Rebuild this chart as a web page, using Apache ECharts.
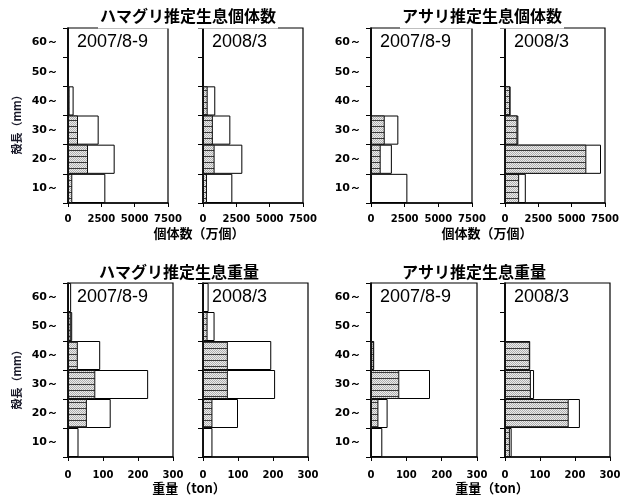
<!DOCTYPE html>
<html>
<head>
<meta charset="utf-8">
<script src="https://cdn.jsdelivr.net/npm/echarts@6/dist/echarts.min.js"></script>
<style>
html,body{margin:0;padding:0;background:#fff;}
#c{width:630px;height:497px;}
</style>
</head>
<body>
<div id="c"></div>
<script>
const sizeClasses = ['10～','20～','30～','40～','50～','60～'];

const hamaNum2007Total = [2800, 3500, 2300, 420, 0, 0];
const hamaNum2007Part  = [320, 1500, 750, 120, 0, 0];
const hamaNum2008Total = [2200, 2950, 2050, 920, 0, 0];
const hamaNum2008Part  = [300, 870, 740, 350, 0, 0];

const asariNum2007Total = [2700, 1550, 2030, 0, 0, 0];
const asariNum2007Part  = [0, 720, 1020, 0, 0, 0];
const asariNum2008Total = [1560, 7200, 1000, 420, 0, 0];
const asariNum2008Part  = [1060, 6100, 930, 380, 0, 0];

const hamaWt2007Total = [30, 122, 229, 92, 12, 9];
const hamaWt2007Part  = [3, 54, 78, 28, 8, 0];
const hamaWt2008Total = [27, 100, 206, 195, 33, 16];
const hamaWt2008Part  = [2, 27, 71, 71, 13, 0];

const asariWt2007Total = [32, 47, 167, 9, 0, 0];
const asariWt2007Part  = [0, 21, 80, 8, 0, 0];
const asariWt2008Total = [19, 214, 83, 72, 0, 0];
const asariWt2008Part  = [14, 182, 74, 71, 0, 0];

const numTicksMax = 7500, numTicksStep = 2500;
const wtTicksMax = 300, wtTicksStep = 100;

const periodLabels = ['2007/8-9', '2008/3'];
const panelTitles = ['ハマグリ推定生息個体数', 'アサリ推定生息個体数', 'ハマグリ推定生息重量', 'アサリ推定生息重量'];
const numAxisName = '個体数（万個）';
const wtAxisName = '重量（ton）';
const yAxisName = '殻長（mm）';

// pattern: gray stipple with horizontal dark lines
const pc = document.createElement('canvas');
pc.width = 4; pc.height = 6;
const pctx = pc.getContext('2d');
pctx.fillStyle = '#ececec';
pctx.fillRect(0, 0, 4, 6);
pctx.fillStyle = '#b0b0b0';
for (let y = 1; y < 6; y++) for (let x = 0; x < 4; x++) if ((x + y) % 2 === 0) pctx.fillRect(x, y, 1, 1);
pctx.fillStyle = '#3a3a3a';
pctx.fillRect(0, 0, 4, 1);
const hatch = { image: pc, repeat: 'repeat' };

const panels = [
  { grid: [68, 28, 100, 175], total: hamaNum2007Total, part: hamaNum2007Part, max: numTicksMax, step: numTicksStep, labels: true, margin: 11 },
  { grid: [203, 28, 100, 175], total: hamaNum2008Total, part: hamaNum2008Part, max: numTicksMax, step: numTicksStep, labels: false, margin: 11 },
  { grid: [371, 28, 101, 175], total: asariNum2007Total, part: asariNum2007Part, max: numTicksMax, step: numTicksStep, labels: true, margin: 11 },
  { grid: [505, 28, 100, 175], total: asariNum2008Total, part: asariNum2008Part, max: numTicksMax, step: numTicksStep, labels: false, margin: 11 },
  { grid: [68, 283, 105, 174], total: hamaWt2007Total, part: hamaWt2007Part, max: wtTicksMax, step: wtTicksStep, labels: true, margin: 13 },
  { grid: [203, 283, 105, 174], total: hamaWt2008Total, part: hamaWt2008Part, max: wtTicksMax, step: wtTicksStep, labels: false, margin: 13 },
  { grid: [371, 283, 106, 174], total: asariWt2007Total, part: asariWt2007Part, max: wtTicksMax, step: wtTicksStep, labels: true, margin: 13 },
  { grid: [505, 283, 105, 174], total: asariWt2008Total, part: asariWt2008Part, max: wtTicksMax, step: wtTicksStep, labels: false, margin: 13 }
];

const grids = [], xAxes = [], yAxes = [], series = [], graphics = [];
const labelFont = 'DejaVu Sans';
const cjk = '"Noto Sans CJK JP", sans-serif';

panels.forEach((p, i) => {
  grids.push({
    left: p.grid[0], top: p.grid[1], width: p.grid[2], height: p.grid[3],
    show: true, borderColor: '#000', borderWidth: 1.2, backgroundColor: 'transparent',
    containLabel: false, outerBoundsMode: 'none'
  });
  xAxes.push({
    type: 'value', gridIndex: i, min: 0, max: p.max, interval: p.step,
    axisLine: { show: true, onZero: false, lineStyle: { color: '#000', width: 1.5 } },
    axisTick: { show: true, length: 4, lineStyle: { color: '#000', width: 1 } },
    axisLabel: { show: true, fontFamily: labelFont, fontWeight: 'bold', fontSize: 10, color: '#000', margin: p.margin,
      showMinLabel: true, showMaxLabel: true, formatter: v => String(v) },
    splitLine: { show: false }
  });
  yAxes.push({
    type: 'category', gridIndex: i, data: sizeClasses, boundaryGap: true,
    axisLine: { show: true, lineStyle: { color: '#000', width: 1.5 } },
    axisTick: { show: true, length: 5, inside: false, alignWithLabel: false, lineStyle: { color: '#000', width: 1 } },
    axisLabel: { show: p.labels, fontFamily: labelFont, fontWeight: 'bold', fontSize: 11, color: '#000', margin: 10 },
    splitLine: { show: false }
  });
  series.push({
    type: 'bar', xAxisIndex: i, yAxisIndex: i, data: p.total,
    barWidth: '100%', barGap: '-100%', silent: true, z: 2,
    itemStyle: { color: '#fff', borderColor: '#000', borderWidth: 1 }
  });
  series.push({
    type: 'bar', xAxisIndex: i, yAxisIndex: i, data: p.part,
    barWidth: '100%', barGap: '-100%', silent: true, z: 3,
    itemStyle: { color: hatch, borderColor: '#111', borderWidth: 1 }
  });
  graphics.push({
    type: 'text', x: p.grid[0] + 9, y: p.grid[1] + 14, z: 50,
    style: { text: periodLabels[i % 2], font: '18px "Liberation Sans", Arial, sans-serif', fill: '#000', align: 'left', verticalAlign: 'middle' }
  });
});

// Panel titles (top ones interrupt the frame line)
const titlePos = [[188, 16, true], [482, 16, true], [179, 272, false], [474, 272, false]];
panelTitles.forEach((t, k) => {
  const st = { text: t, font: 'bold 16px ' + cjk, fill: '#000', align: 'center', verticalAlign: 'middle' };
  if (titlePos[k][2]) { st.backgroundColor = '#fff'; st.padding = [2, 2, 7, 2]; }
  graphics.push({ type: 'text', x: titlePos[k][0], y: titlePos[k][1], z: 100, style: st });
});

// Axis names
[[199, 233, numAxisName], [487, 233, numAxisName], [189, 488, wtAxisName], [492, 488, wtAxisName]].forEach(a => {
  graphics.push({
    type: 'text', x: a[0], y: a[1], z: 50,
    style: { text: a[2], font: 'bold 13px ' + cjk, fill: '#000', align: 'center', verticalAlign: 'middle' }
  });
});

// Y axis names
[[17, 122], [17, 377]].forEach(a => {
  graphics.push({
    type: 'text', x: a[0], y: a[1], rotation: Math.PI / 2, z: 50,
    style: { text: yAxisName, font: 'bold 11px ' + cjk, fill: '#1a1a2a', align: 'center', verticalAlign: 'middle' }
  });
});

const chart = echarts.init(document.getElementById('c'), null, { renderer: 'canvas' });
chart.setOption({
  animation: false,
  backgroundColor: '#fff',
  grid: grids,
  xAxis: xAxes,
  yAxis: yAxes,
  series: series,
  graphic: { elements: graphics }
});
</script>
</body>
</html>
